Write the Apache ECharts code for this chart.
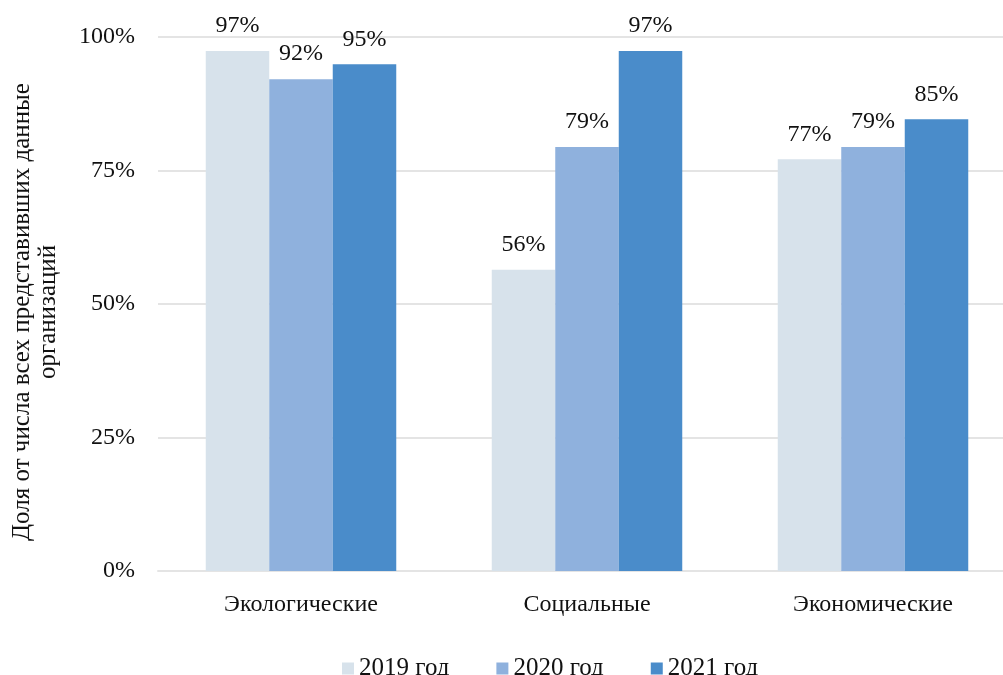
<!DOCTYPE html>
<html>
<head>
<meta charset="utf-8">
<script src="https://cdn.jsdelivr.net/npm/echarts@6/dist/echarts.min.js"></script>
<style>
  html, body { margin: 0; padding: 0; background: #fff; }
  #chart { width: 1003px; height: 675px; }
</style>
</head>
<body>
<div id="chart"></div>
<script>
// категории и значения (в %)
var categories = ['Экологические', 'Социальные', 'Экономические'];
var seriesNames = ['2019 год', '2020 год', '2021 год'];
var values2019 = [97.4, 56.4, 77.1];
var values2020 = [92.1, 79.4, 79.4];
var values2021 = [94.9, 97.4, 84.6];
var yTicks = [0, 25, 50, 75, 100];

var colors = ['#D7E2EB', '#8FB1DD', '#4A8CCA'];
var fontName = '"Liberation Serif", "Times New Roman", serif';

var myChart = echarts.init(document.getElementById('chart'));

function makeSeries(name, data, color) {
	return {
		name: name,
		type: 'bar',
		data: data,
		barWidth: 63.5,
		barGap: '0%',
		itemStyle: { color: color },
		label: {
			show: true,
			position: 'top',
			distance: 13,
			fontFamily: fontName,
			fontSize: 24,
			color: '#111',
			formatter: function(p) { return Math.round(p.value) + '%'; }
		}
	};
}

var option = {
	animation: false,
	color: colors,
	grid: { left: 158, right: -13, top: 37, bottom: 104, containLabel: false, outerBoundsMode: 'none' },
	legend: {
		data: seriesNames,
		top: 651,
		left: 337,
		itemWidth: 12,
		itemHeight: 12,
		itemGap: 47,
		icon: 'rect',
		textStyle: { fontFamily: fontName, fontSize: 25, color: '#111' }
	},
	xAxis: {
		type: 'category',
		data: categories,
		axisLine: { lineStyle: { color: '#E4E4E4', width: 2 } },
		axisTick: { show: false },
		axisLabel: { fontFamily: fontName, fontSize: 24, color: '#111', margin: 22 }
	},
	yAxis: {
		type: 'value',
		min: yTicks[0],
		max: yTicks[yTicks.length - 1],
		interval: 25,
		name: 'Доля от числа всех представивших данные\nорганизаций',
		nameLocation: 'middle',
		nameGap: 97,
		nameTextStyle: { fontFamily: fontName, fontSize: 25, color: '#111', lineHeight: 26, padding: [0, 16, 0, 0] },
		axisLine: { show: false },
		axisTick: { show: false },
		splitLine: { lineStyle: { color: '#E4E4E4', width: 2 } },
		axisLabel: {
			fontFamily: fontName, fontSize: 24, color: '#111', margin: 23,
			formatter: function(v) { return v + '%'; }
		}
	},
	series: [
		makeSeries(seriesNames[0], values2019, colors[0]),
		makeSeries(seriesNames[1], values2020, colors[1]),
		makeSeries(seriesNames[2], values2021, colors[2])
	]
};
myChart.setOption(option);
</script>
</body>
</html>
